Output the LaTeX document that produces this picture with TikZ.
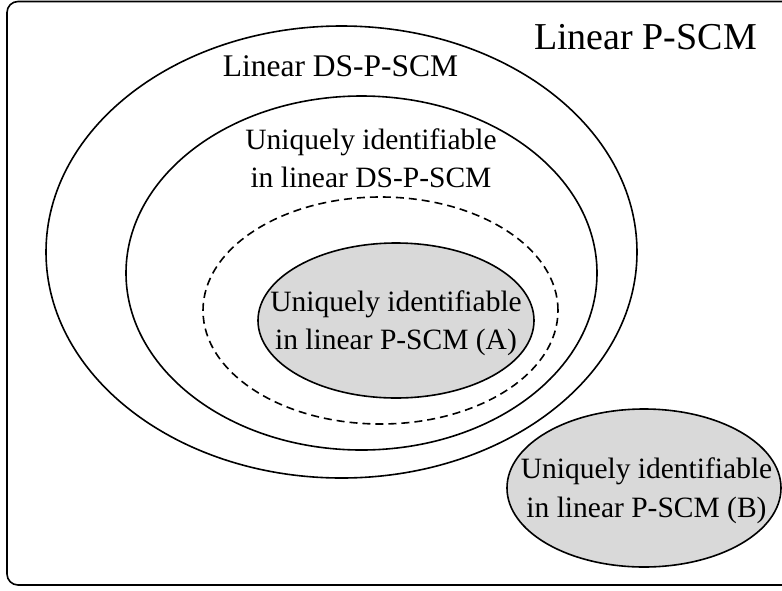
\documentclass[tikz,border=0pt]{standalone}
\usepackage{fontspec}
\setmainfont{Liberation Serif}
\usetikzlibrary{shapes.geometric}
\tikzset{
  setline/.style={draw=black, line width=1.6pt},
  setell/.style={setline, ellipse, inner sep=0pt, outer sep=0pt},
  grayset/.style={setell, fill=black!15},
  dashset/.style={setell, dash pattern=on 8pt off 5pt},
  lbl/.style={anchor=base, inner sep=0pt, font=\fontsize{29.5}{38}\selectfont},
}
\begin{document}
\begin{tikzpicture}[x=1pt, y=-1pt]
  \useasboundingbox (0,0) rectangle (782,590);
  \draw[setline, rounded corners=11pt] (7,1.5) rectangle (800,585);
  \node[setell, minimum width=591pt, minimum height=452pt] (dsp) at (341.5,252) {};
  \node[setell, minimum width=471pt, minimum height=354pt] (uid) at (361.5,273) {};
  \node[dashset, minimum width=355pt, minimum height=227pt] (dash) at (380.5,310.5) {};
  \node[grayset, minimum width=276pt, minimum height=155pt] (ea) at (396,320.5) {};
  \node[grayset, minimum width=274pt, minimum height=158pt] (eb) at (644,488) {};
  \node[anchor=base, inner sep=0pt, font=\fontsize{38}{44}\selectfont] (tp) at (645.5,49) {Linear P-SCM};
  \node[anchor=base, inner sep=0pt, font=\fontsize{31.5}{38}\selectfont] (tds) at (340.5,76) {Linear DS-P-SCM};
  \node[lbl] (tuid) at (371,149) {\begin{tabular}[t]{@{}c@{}}Uniquely identifiable\\in linear DS-P-SCM\end{tabular}};
  \node[lbl] (ta) at (396,311) {\begin{tabular}[t]{@{}c@{}}Uniquely identifiable\\in linear P-SCM (A)\end{tabular}};
  \node[lbl, font=\fontsize{29.5}{39}\selectfont] (tb) at (646.5,478) {\begin{tabular}[t]{@{}c@{}}Uniquely identifiable\\in linear P-SCM (B)\end{tabular}};
\end{tikzpicture}
\end{document}
